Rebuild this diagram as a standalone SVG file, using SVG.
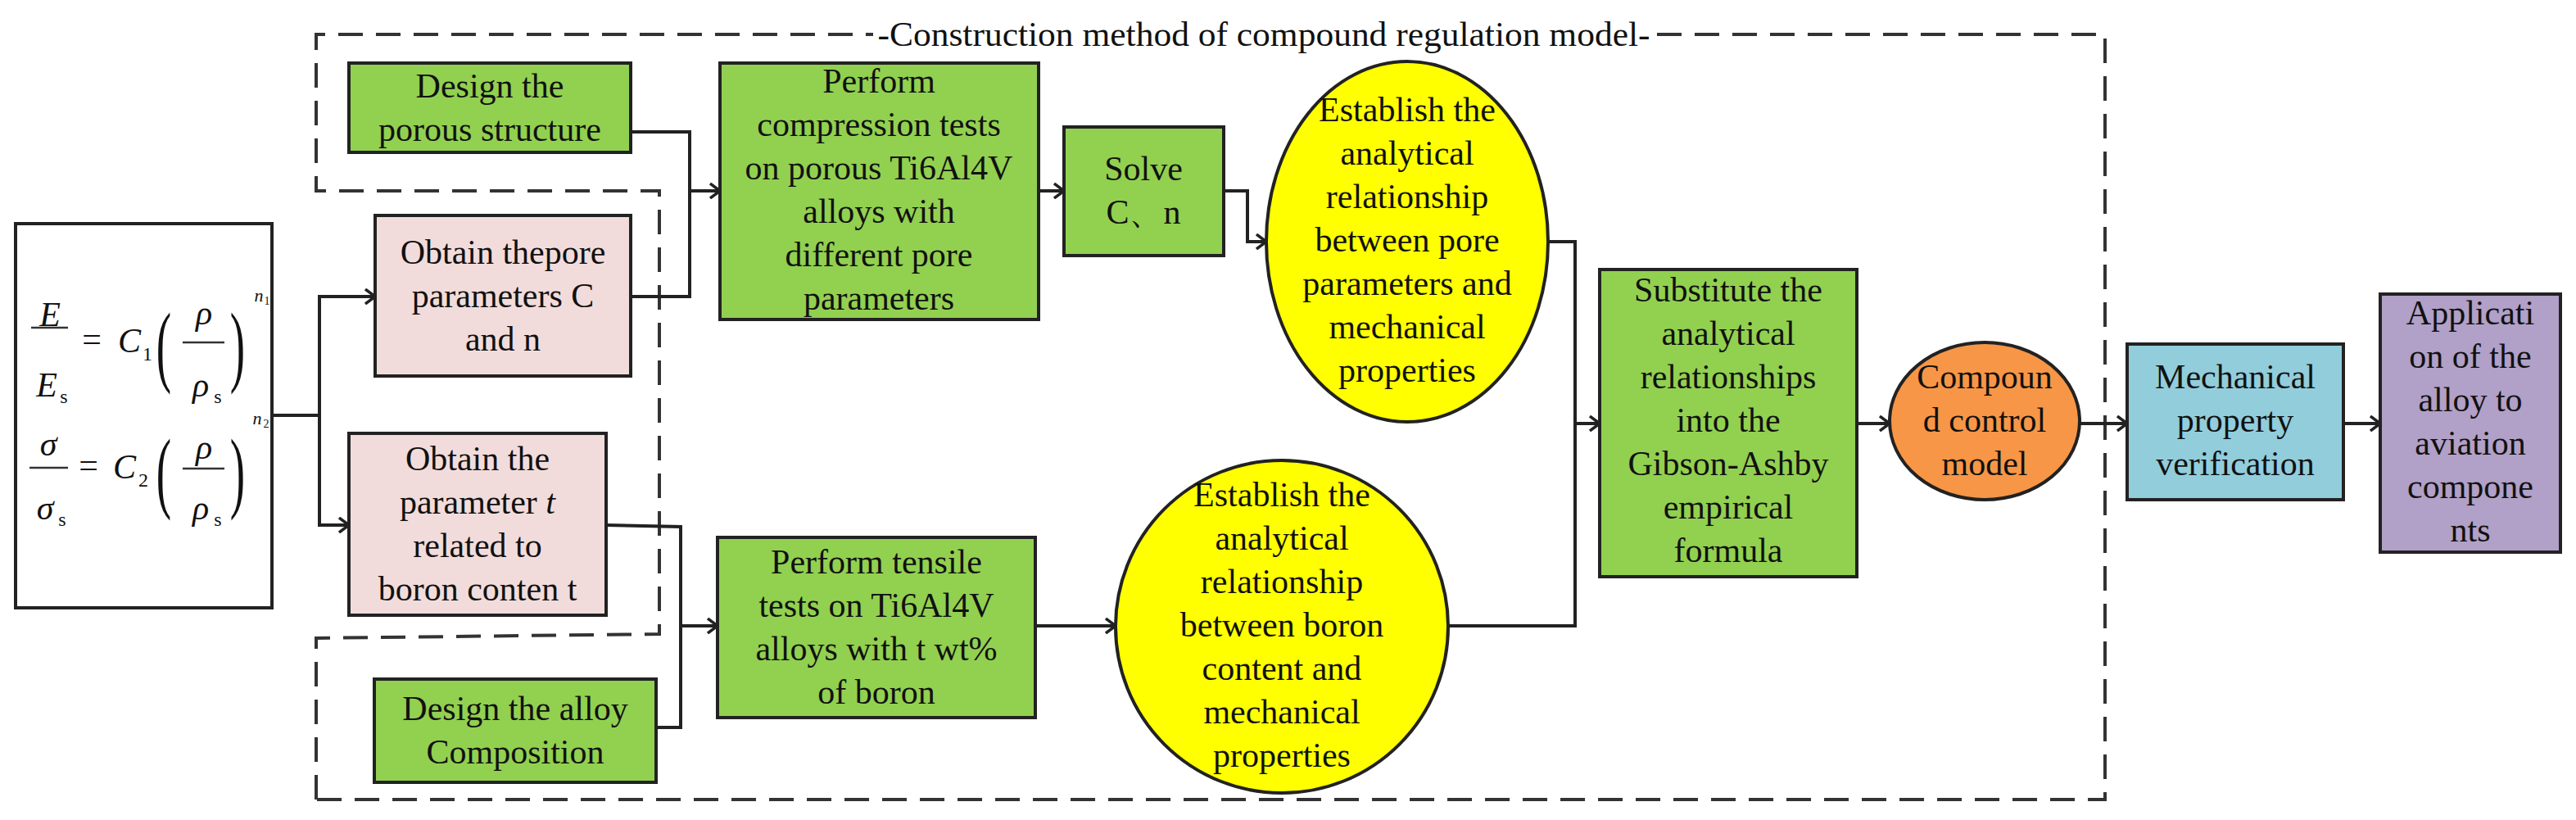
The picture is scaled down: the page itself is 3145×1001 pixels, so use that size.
<svg xmlns="http://www.w3.org/2000/svg" width="3145" height="1001" viewBox="0 0 3145 1001">
<style>
text{font-family:"Liberation Serif","Times New Roman",serif;font-size:42px;fill:#111;text-anchor:middle}
.n{stroke:#222;stroke-width:4}
.g{fill:#92d050}.p{fill:#f2dcdb}.y{fill:#ffff00}.o{fill:#f79646}.b{fill:#92cddc}.v{fill:#b1a0c7}
.c{fill:none;stroke:#222;stroke-width:4}
.f{font-style:italic}
</style>
<defs>
<marker id="a" markerWidth="14" markerHeight="20" refX="13" refY="10" orient="auto" markerUnits="userSpaceOnUse">
<path d="M1,1 L13,10 L1,19" fill="none" stroke="#222" stroke-width="3.5"/>
</marker>
</defs>
<rect width="3145" height="1001" fill="#fff"/>
<path d="M386,976 L386,779 L805,774 L805,233 L386,233 L386,42 L2570,42 L2570,976 Z" fill="none" stroke="#333" stroke-width="4" stroke-dasharray="30,16"/>
<rect x="1066" y="20" width="955" height="44" fill="#fff"/>
<text x="1543" y="56" textLength="943" lengthAdjust="spacingAndGlyphs">-Construction method of compound regulation model-</text>

<g id="formula">
<rect x="19" y="273" width="313" height="469" fill="#fff" stroke="#222" stroke-width="4"/>
<text class="f" x="61" y="398">E</text>
<line x1="38" y1="400" x2="83" y2="400" stroke="#333" stroke-width="2.5"/>
<text class="f" x="57" y="484">E</text><text x="78" y="492" style="font-size:24px">s</text>
<text x="112" y="428">=</text>
<text class="f" x="158" y="430">C</text><text x="180" y="440" style="font-size:24px">1</text>
<text x="200" y="458" style="font-size:110px;font-weight:100" transform="translate(200,458) scale(0.5,1) translate(-200,-458)">(</text>
<text class="f" x="249" y="396">ρ</text>
<line x1="223" y1="418" x2="274" y2="418" stroke="#333" stroke-width="2.5"/>
<text class="f" x="245" y="484">ρ</text><text x="266" y="492" style="font-size:24px">s</text>
<text x="290" y="458" style="font-size:110px" transform="translate(290,458) scale(0.5,1) translate(-290,-458)">)</text>
<text class="f" x="316" y="368" style="font-size:22px">n</text><text x="326" y="372" style="font-size:14px">1</text>

<text class="f" x="59" y="556">σ</text>
<line x1="36" y1="571" x2="83" y2="571" stroke="#333" stroke-width="2.5"/>
<text class="f" x="55" y="634">σ</text><text x="76" y="642" style="font-size:24px">s</text>
<text x="108" y="582">=</text>
<text class="f" x="152" y="584">C</text><text x="175" y="594" style="font-size:24px">2</text>
<text x="200" y="612" style="font-size:110px" transform="translate(200,612) scale(0.5,1) translate(-200,-612)">(</text>
<text class="f" x="249" y="560">ρ</text>
<line x1="223" y1="572" x2="274" y2="572" stroke="#333" stroke-width="2.5"/>
<text class="f" x="245" y="634">ρ</text><text x="266" y="642" style="font-size:24px">s</text>
<text x="290" y="612" style="font-size:110px" transform="translate(290,612) scale(0.5,1) translate(-290,-612)">)</text>
<text class="f" x="314" y="518" style="font-size:22px">n</text><text x="325" y="522" style="font-size:14px">2</text>
</g>

<g id="connectors">
<path class="c" d="M332,507 L390,507 L390,362 L458,362" marker-end="url(#a)"/>
<path class="c" d="M390,507 L390,641 L426,641" marker-end="url(#a)"/>
<path class="c" d="M770,161 L842,161 L842,362 L770,362"/>
<path class="c" d="M842,233 L879,233" marker-end="url(#a)"/>
<path class="c" d="M740,641 L831,643 L831,888 L801,888"/>
<path class="c" d="M831,764 L876,764" marker-end="url(#a)"/>
<path class="c" d="M1268,233 L1299,233" marker-end="url(#a)"/>
<path class="c" d="M1494,233 L1523,233 L1523,295 L1546,295" marker-end="url(#a)"/>
<path class="c" d="M1264,764 L1362,764" marker-end="url(#a)"/>
<path class="c" d="M1890,295 L1923,295 L1923,764 L1768,764"/>
<path class="c" d="M1923,517 L1953,517" marker-end="url(#a)"/>
<path class="c" d="M2267,517 L2307,517" marker-end="url(#a)"/>
<path class="c" d="M2539,517 L2597,517" marker-end="url(#a)"/>
<path class="c" d="M2861,517 L2906,517" marker-end="url(#a)"/>
</g>

<g id="design-porous"><rect class="n g" x="426" y="77" width="344" height="109"/>
<text x="598" y="119">Design the</text><text x="598" y="172">porous structure</text></g>

<g id="obtain-pore"><rect class="n p" x="458" y="263" width="312" height="196"/>
<text x="614" y="322">Obtain thepore</text><text x="614" y="375">parameters C</text><text x="614" y="428">and n</text></g>

<g id="obtain-t"><rect class="n p" x="426" y="529" width="314" height="222"/>
<text x="583" y="574">Obtain the</text><text x="583" y="627">parameter <tspan class="f">t</tspan></text><text x="583" y="680">related to</text><text x="583" y="733">boron conten t</text></g>

<g id="design-alloy"><rect class="n g" x="457" y="829" width="344" height="126"/>
<text x="629" y="879">Design the alloy</text><text x="629" y="932">Composition</text></g>

<g id="compression"><rect class="n g" x="879" y="77" width="389" height="313"/>
<text x="1073" y="113">Perform</text><text x="1073" y="166">compression tests</text><text x="1073" y="219">on porous Ti6Al4V</text><text x="1073" y="272">alloys with</text><text x="1073" y="325">different pore</text><text x="1073" y="378">parameters</text></g>

<g id="solve"><rect class="n g" x="1299" y="155" width="195" height="157"/>
<text x="1396" y="220">Solve</text><text x="1396" y="273">C、n</text></g>

<g id="establish-pore"><ellipse class="n y" cx="1718" cy="295" rx="172" ry="220"/>
<text x="1718" y="148">Establish the</text><text x="1718" y="201">analytical</text><text x="1718" y="254">relationship</text><text x="1718" y="307">between pore</text><text x="1718" y="360">parameters and</text><text x="1718" y="413">mechanical</text><text x="1718" y="466">properties</text></g>

<g id="tensile"><rect class="n g" x="876" y="656" width="388" height="220"/>
<text x="1070" y="700">Perform tensile</text><text x="1070" y="753">tests on Ti6Al4V</text><text x="1070" y="806">alloys with t wt%</text><text x="1070" y="859">of boron</text></g>

<g id="establish-boron"><ellipse class="n y" cx="1565" cy="765" rx="203" ry="203"/>
<text x="1565" y="618">Establish the</text><text x="1565" y="671">analytical</text><text x="1565" y="724">relationship</text><text x="1565" y="777">between boron</text><text x="1565" y="830">content and</text><text x="1565" y="883">mechanical</text><text x="1565" y="936">properties</text></g>

<g id="substitute"><rect class="n g" x="1953" y="329" width="314" height="375"/>
<text x="2110" y="368">Substitute the</text><text x="2110" y="421">analytical</text><text x="2110" y="474">relationships</text><text x="2110" y="527">into the</text><text x="2110" y="580">Gibson-Ashby</text><text x="2110" y="633">empirical</text><text x="2110" y="686">formula</text></g>

<g id="compound"><ellipse class="n o" cx="2423" cy="514" rx="116" ry="96"/>
<text x="2423" y="474">Compoun</text><text x="2423" y="527">d control</text><text x="2423" y="580">model</text></g>

<g id="verification"><rect class="n b" x="2597" y="420" width="264" height="190"/>
<text x="2729" y="474">Mechanical</text><text x="2729" y="527">property</text><text x="2729" y="580">verification</text></g>

<g id="application"><rect class="n v" x="2906" y="359" width="220" height="315"/>
<text x="3016" y="396">Applicati</text><text x="3016" y="449">on of the</text><text x="3016" y="502">alloy to</text><text x="3016" y="555">aviation</text><text x="3016" y="608">compone</text><text x="3016" y="661">nts</text></g>
</svg>
